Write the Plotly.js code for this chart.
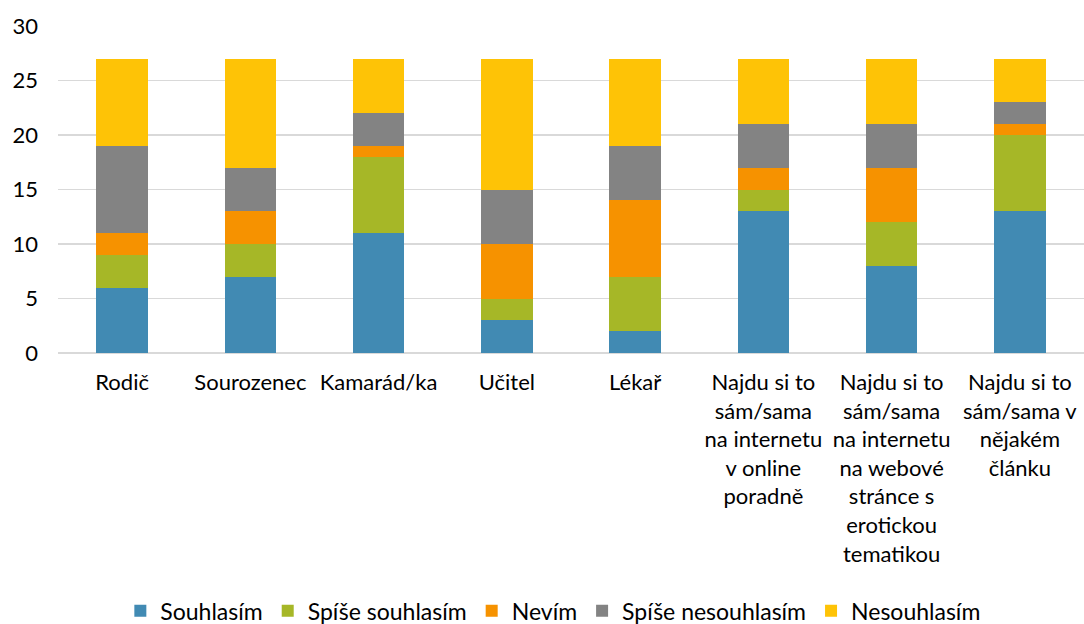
<!DOCTYPE html>
<html>
<head>
<meta charset="utf-8">
<script src="https://cdn.plot.ly/plotly-3.0.1.min.js"></script>
<style>html,body{margin:0;padding:0;background:#fff;}#chart{width:1084px;height:624px;}</style>
</head>
<body>
<div id="chart"></div>
<script>
const categories = [
  "Rodič",
  "Sourozenec",
  "Kamarád/ka",
  "Učitel",
  "Lékař",
  "Najdu si to<br>sám/sama<br>na internetu<br>v online<br>poradně",
  "Najdu si to<br>sám/sama<br>na internetu<br>na webové<br>stránce s<br>erotickou<br>tematikou",
  "Najdu si to<br>sám/sama v<br>nějakém<br>článku"
];
const seriesNames = ["Souhlasím", "Spíše souhlasím", "Nevím", "Spíše nesouhlasím", "Nesouhlasím"];
const souhlasim        = [6, 7, 11, 3, 2, 13, 8, 13];
const spiseSouhlasim   = [3, 3, 7, 2, 5, 2, 4, 7];
const nevim            = [2, 3, 1, 5, 7, 2, 5, 1];
const spiseNesouhlasim = [8, 4, 3, 5, 5, 4, 4, 2];
const nesouhlasim      = [8, 10, 5, 12, 8, 6, 6, 4];
const colors = ["#418AB3", "#A6B727", "#F69200", "#838383", "#FEC306"];

const values = [souhlasim, spiseSouhlasim, nevim, spiseNesouhlasim, nesouhlasim];
const traces = values.map((v, i) => ({
  type: "bar",
  name: seriesNames[i],
  x: categories,
  y: v,
  marker: {color: colors[i], line: {width: 0}},
  hoverinfo: "y+name"
}));

const font = {family: "Lato, 'Open Sans', sans-serif", size: 22, color: "#000"};
const layout = {
  width: 1084, height: 624,
  margin: {l: 58, r: 0, t: 26, b: 271},
  barmode: "stack",
  bargap: 0.6,
  paper_bgcolor: "#fff",
  plot_bgcolor: "#fff",
  font: font,
  xaxis: {
    tickfont: font,
    ticks: "",
    ticklabelstandoff: 14,
    showline: false,
    showgrid: false,
    automargin: false,
    fixedrange: true
  },
  yaxis: {
    range: [0, 30],
    tickvals: [0, 5, 10, 15, 20, 25, 30],
    tickfont: font,
    ticklabelstandoff: 19,
    showgrid: true,
    gridcolor: "#D9D9D9",
    gridwidth: 1.5,
    zeroline: true,
    zerolinecolor: "#D9D9D9",
    zerolinewidth: 1.5,
    showline: false,
    ticks: "",
    automargin: false,
    fixedrange: true
  },
  legend: {
    orientation: "h",
    xref: "container", yref: "container",
    x: 0.51, xanchor: "center",
    y: 0.021, yanchor: "middle",
    font: {family: font.family, size: 23, color: "#000"},
    traceorder: "normal",
    itemwidth: 30
  },
  showlegend: true
};
Plotly.newPlot("chart", traces, layout, {displayModeBar: false, staticPlot: true});
</script>
</body>
</html>
